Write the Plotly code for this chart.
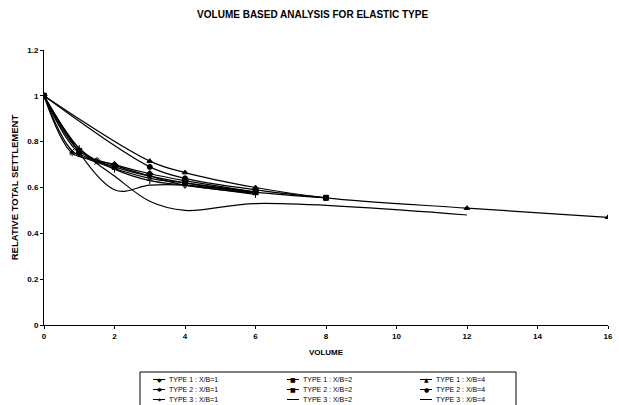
import plotly.graph_objects as go

# ---- data ----
names = ["TYPE 1 : X/B=1", "TYPE 1 : X/B=2", "TYPE 1 : X/B=4",
         "TYPE 2 : X/B=1", "TYPE 2 : X/B=2", "TYPE 2 : X/B=4",
         "TYPE 3 : X/B=1", "TYPE 3 : X/B=2", "TYPE 3 : X/B=4"]

t1_xb1_x = [0, 1, 2, 3, 4, 6]
t1_xb1_y = [1, 0.75, 0.70, 0.66, 0.63, 0.58]
t1_xb2_x = [0, 1, 2, 4, 6, 8]
t1_xb2_y = [1, 0.76, 0.69, 0.62, 0.58, 0.555]
t1_xb4_x = [0, 3, 4, 6, 8, 12, 16]
t1_xb4_y = [1, 0.715, 0.665, 0.60, 0.555, 0.51, 0.47]

t2_xb1_x = [0, 0.8, 1.5, 3, 4, 6]
t2_xb1_y = [1, 0.76, 0.71, 0.64, 0.62, 0.58]
t2_xb2_x = [0, 0.8, 1.5, 3, 4, 6]
t2_xb2_y = [1, 0.75, 0.72, 0.65, 0.61, 0.575]
t2_xb4_x = [0, 3, 4, 6, 8]
t2_xb4_y = [1, 0.69, 0.64, 0.59, 0.555]

t3_xb1_x = [0, 1, 2, 3, 4, 6]
t3_xb1_y = [1, 0.77, 0.68, 0.63, 0.61, 0.57]
t3_xb2_x = [0, 1, 2, 3, 4, 6, 12]
t3_xb2_y = [1, 0.77, 0.65, 0.54, 0.50, 0.53, 0.48]
t3_xb4_x = [0, 2, 3, 4, 6]
t3_xb4_y = [1, 0.59, 0.61, 0.61, 0.575]

xs = [t1_xb1_x, t1_xb2_x, t1_xb4_x, t2_xb1_x, t2_xb2_x, t2_xb4_x, t3_xb1_x, t3_xb2_x, t3_xb4_x]
ys = [t1_xb1_y, t1_xb2_y, t1_xb4_y, t2_xb1_y, t2_xb2_y, t2_xb4_y, t3_xb1_y, t3_xb2_y, t3_xb4_y]
symbols = ["diamond", "square", "triangle-up", "x-thin-open", "asterisk-open", "circle",
           "line-ns-open", None, None]
legend_glyphs = ["◆", "■", "▲", "✱", "■", "●", "+", "", ""]

fig = go.Figure()
for n, x, y, s in zip(names, xs, ys, symbols):
    mode = "lines+markers" if s else "lines"
    fig.add_trace(go.Scatter(
        x=x, y=y, name=n, mode=mode, showlegend=False,
        line=dict(color="black", width=1.2, shape="spline", smoothing=1.0),
        marker=dict(symbol=s, size=5, color="black", line=dict(color="black", width=1)) if s else None,
    ))

# ---- layout geometry (pixels) ----
W, H = 619, 405
ML, MR, MT, MB = 44, 11, 50, 80
PW, PH = W - ML - MR, H - MT - MB


def px_x(p):
    return (p - ML) / PW


def px_y(p):
    return (H - MB - p) / PH


font = "Liberation Sans, Arial, sans-serif"
shapes = []
annotations = []

# legend box (cut off by the bottom edge, like the reference)
shapes.append(dict(type="rect", xref="paper", yref="paper",
                   x0=px_x(140), x1=px_x(516), y0=px_y(412), y1=px_y(372),
                   line=dict(color="black", width=1), fillcolor="white"))
col_x = [153, 287, 420]
row_y = [379.5, 389.5, 399.5]
for i, n in enumerate(names):
    r, c = divmod(i, 3)
    x0 = col_x[c]
    yy = row_y[r]
    shapes.append(dict(type="line", xref="paper", yref="paper",
                       x0=px_x(x0), x1=px_x(x0 + 12), y0=px_y(yy), y1=px_y(yy),
                       line=dict(color="black", width=1)))
    if legend_glyphs[i]:
        annotations.append(dict(xref="paper", yref="paper", x=px_x(x0 + 6), y=px_y(yy),
                                text=legend_glyphs[i], showarrow=False,
                                font=dict(size=6, family="DejaVu Sans", color="black"),
                                xanchor="center", yanchor="middle"))
    annotations.append(dict(xref="paper", yref="paper", x=px_x(x0 + 14), y=px_y(yy),
                            text=n, showarrow=False, xanchor="left", yanchor="middle",
                            font=dict(size=7, family=font, color="black")))

fig.update_layout(
    width=W, height=H,
    margin=dict(l=ML, r=MR, t=MT, b=MB, autoexpand=False),
    paper_bgcolor="white", plot_bgcolor="white",
    font=dict(family=font, color="black", size=8),
    title=dict(text="<b>VOLUME BASED ANALYSIS FOR ELASTIC TYPE</b>",
               x=0.505, xanchor="center", y=0.965, yanchor="middle",
               font=dict(size=10, family=font)),
    showlegend=False,
    shapes=shapes,
    annotations=annotations,
)
fig.update_xaxes(range=[0, 16], dtick=2, tick0=0, showgrid=False, zeroline=False,
                 showline=True, linecolor="black", linewidth=1,
                 ticks="outside", ticklen=3, tickcolor="black",
                 tickfont=dict(size=8, family=font, weight="bold"),
                 title=dict(text="<b>VOLUME</b>", font=dict(size=8, family=font), standoff=9))
fig.update_yaxes(range=[0, 1.2], dtick=0.2, tick0=0, showgrid=False, zeroline=False,
                 showline=True, linecolor="black", linewidth=1,
                 ticks="outside", ticklen=3, tickcolor="black",
                 tickfont=dict(size=8, family=font, weight="bold"),
                 title=dict(text="<b>RELATIVE TOTAL SETTLEMENT</b>", font=dict(size=9.5, family=font), standoff=6))

fig.write_html("out.html")
